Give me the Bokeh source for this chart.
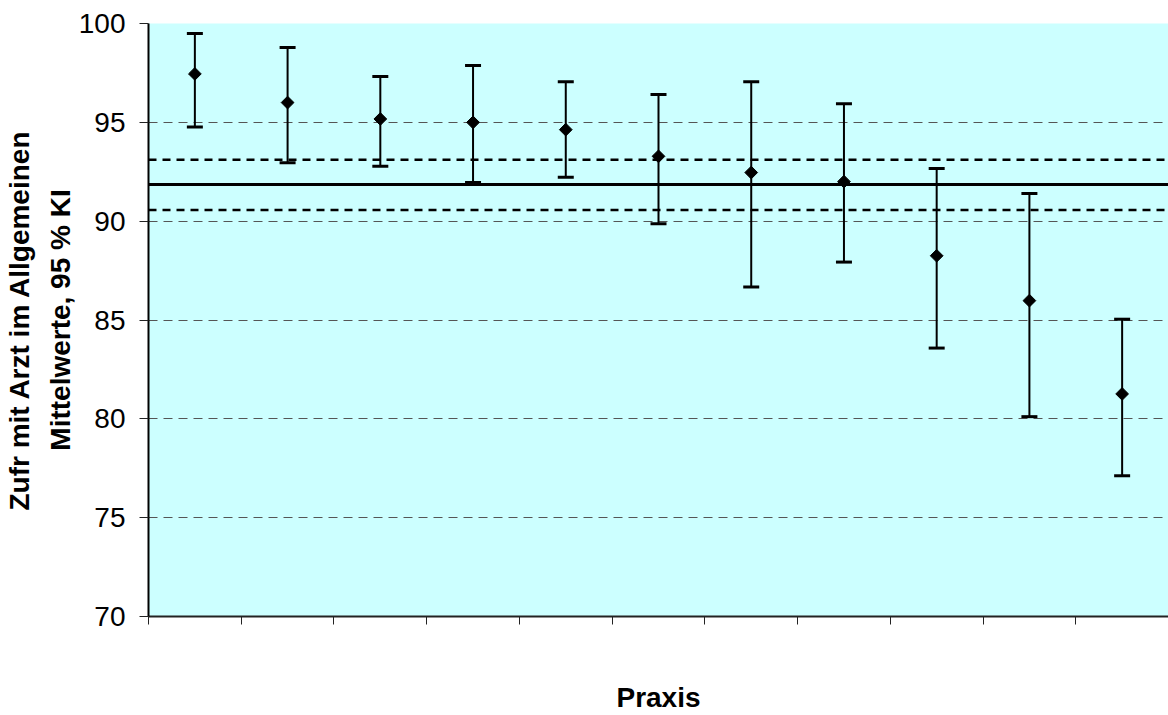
import numpy as np
from bokeh.plotting import figure
from bokeh.models import Range1d, FixedTicker, Span
from bokeh.embed import file_html
from bokeh.resources import INLINE

# Mean satisfaction per practice with 95 % confidence limits
practices = list(range(1, 12))
means = [97.45, 96.0, 95.17, 95.0, 94.63, 93.28, 92.46, 92.0, 88.25, 85.98, 81.26]
lower = [94.76, 92.95, 92.78, 91.95, 92.22, 89.87, 86.67, 87.93, 83.58, 80.11, 77.12]
upper = [99.5, 98.78, 97.32, 97.87, 97.05, 96.41, 97.05, 95.94, 92.67, 91.4, 85.04]

# Pooled mean over all practices and its confidence band
overall_mean = 91.85
overall_lower = 90.57
overall_upper = 93.11

y_ticks = [70, 75, 80, 85, 90, 95, 100]

FONT = "Liberation Sans"

n = len(practices)
xs = np.arange(n) + 0.5

p = figure(width=1168, height=715, output_backend="svg", toolbar_location=None,
           x_range=Range1d(0, n), y_range=Range1d(70, 100),
           min_border_left=148, min_border_right=0,
           min_border_top=23, min_border_bottom=98)

p.background_fill_color = "#CCFFFF"
p.border_fill_color = "white"
p.outline_line_color = None

# axes
p.xaxis.ticker = FixedTicker(ticks=list(range(n + 1)))
p.xaxis.major_label_overrides = {i: "" for i in range(n + 1)}
p.xaxis.major_label_text_font_size = "1px"
p.xaxis.major_tick_in = 0
p.xaxis.major_tick_out = 8
p.xaxis.minor_tick_line_color = None
p.xaxis.axis_line_color = "#222222"
p.xaxis.axis_line_width = 2
p.xaxis.major_tick_line_color = "#222222"
p.xaxis.axis_label = "Praxis"
p.xaxis.axis_label_text_font = FONT
p.xaxis.axis_label_text_font_style = "bold"
p.xaxis.axis_label_text_font_size = "28px"
p.xaxis.axis_label_standoff = 57
p.xaxis.axis_label_text_color = "black"

p.yaxis.ticker = FixedTicker(ticks=y_ticks)
p.yaxis.major_tick_in = 0
p.yaxis.major_tick_out = 9
p.yaxis.minor_tick_line_color = None
p.yaxis.axis_line_color = "black"
p.yaxis.axis_line_width = 2
p.yaxis.major_tick_line_color = "#222222"
p.yaxis.major_label_text_font = FONT
p.yaxis.major_label_text_font_size = "28px"
p.yaxis.major_label_text_color = "black"
p.yaxis.major_label_standoff = 14
p.yaxis.axis_label = "Zufr mit Arzt im Allgemeinen\nMittelwerte, 95 % KI"
p.yaxis.axis_label_text_font = FONT
p.yaxis.axis_label_text_font_style = "bold"
p.yaxis.axis_label_text_font_size = "28px"
p.yaxis.axis_label_text_line_height = 1.3
p.yaxis.axis_label_text_align = "center"
p.yaxis.axis_label_standoff = 0
p.yaxis.axis_label_text_color = "black"

# grid
p.xgrid.grid_line_color = None
p.ygrid.grid_line_color = "#555555"
p.ygrid.grid_line_width = 1
p.ygrid.grid_line_dash = "9 6"

# pooled mean and its confidence band
p.add_layout(Span(location=overall_mean, dimension="width",
                  line_color="black", line_width=3))
for lim in (overall_lower, overall_upper):
    p.add_layout(Span(location=lim, dimension="width", line_color="black",
                      line_width=2.5, line_dash="8 6"))

# confidence intervals per practice
p.segment(x0=xs, y0=lower, x1=xs, y1=upper, line_color="black", line_width=2)
p.scatter(x=xs, y=lower, marker="dash", size=16, line_color="black", line_width=3)
p.scatter(x=xs, y=upper, marker="dash", size=16, line_color="black", line_width=3)

# practice means
p.scatter(x=xs, y=means, marker="square", angle=np.pi / 4, size=9,
          fill_color="black", line_color="black", line_width=1)

open("out.html", "w").write(file_html(p, INLINE))
